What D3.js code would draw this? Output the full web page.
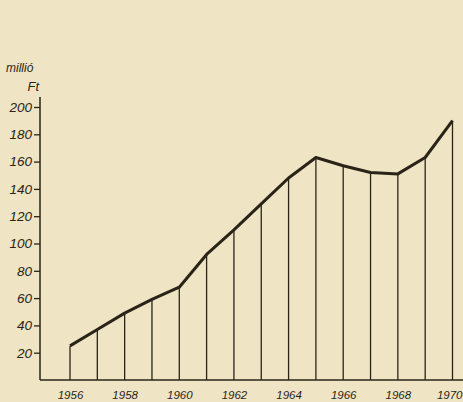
<!DOCTYPE html>
<html>
<head>
<meta charset="utf-8">
<script src="https://cdn.jsdelivr.net/npm/d3@7"></script>
<style>
  html, body { margin: 0; padding: 0; background: #efe4c4; }
  svg text { font-family: "Liberation Sans", "DejaVu Sans", sans-serif; font-style: italic; fill: #2a2418; }
</style>
</head>
<body>
<div id="chart"></div>
<script>
"use strict";
const years = [1956, 1957, 1958, 1959, 1960, 1961, 1962, 1963, 1964, 1965, 1966, 1967, 1968, 1969, 1970];
const values = [25, 37, 49, 59, 68, 92, 110, 129, 148, 163, 157, 152, 151, 163, 190];
const yTicks = [20, 40, 60, 80, 100, 120, 140, 160, 180, 200];
const xTickYears = [1956, 1958, 1960, 1962, 1964, 1966, 1968, 1970];
const unitLines = ["millió", "Ft"];

const width = 463;
const height = 402;
const ink = "#2a2418";

const svg = d3.select("#chart")
    .append("svg")
    .attr("width", width)
    .attr("height", height);

svg.append("rect")
    .attr("width", width)
    .attr("height", height)
    .attr("fill", "#efe4c4");

const x = d3.scaleLinear()
    .domain([1956, 1970])
    .range([70, 452.5]);
const y = d3.scaleLinear()
    .domain([0, 200])
    .range([380, 107]);

// axes lines
svg.append("line")
    .attr("x1", 40).attr("x2", 40)
    .attr("y1", 97).attr("y2", 380)
    .attr("stroke", ink).attr("stroke-width", 1.5);
svg.append("line")
    .attr("x1", 40).attr("x2", width)
    .attr("y1", 380).attr("y2", 380)
    .attr("stroke", ink).attr("stroke-width", 1.5);

const yAxis = svg.append("g")
    .attr("transform", "translate(40,0)")
    .call(d3.axisLeft(y).tickValues(yTicks).tickSize(6).tickPadding(2));
yAxis.select(".domain").remove();
yAxis.selectAll("line").attr("stroke", ink).attr("stroke-width", 1.3);
yAxis.selectAll("text")
    .attr("font-size", 13.5)
    .attr("fill", ink)
    .style("font-family", "'Liberation Sans', sans-serif")
    .style("font-style", "italic");

const xAxis = svg.append("g")
    .attr("transform", "translate(0,380)")
    .call(d3.axisBottom(x).tickValues(xTickYears).tickFormat(d3.format("d")).tickSize(0).tickPadding(11));
xAxis.select(".domain").remove();
xAxis.selectAll("text")
    .attr("font-size", 11.5)
    .attr("fill", ink)
    .style("font-family", "'Liberation Sans', sans-serif")
    .style("font-style", "italic");
// keep the last year label inside the frame
xAxis.selectAll("text")
    .filter(d => d === 1970)
    .attr("text-anchor", "end")
    .attr("x", width - 452.5 - 1);

const data = years.map((yr, i) => ({ year: yr, value: values[i] }));

// vertical drop lines
svg.append("g")
    .selectAll("line")
    .data(data)
    .enter()
    .append("line")
    .attr("x1", d => x(d.year))
    .attr("x2", d => x(d.year))
    .attr("y1", d => y(d.value))
    .attr("y2", y(0))
    .attr("stroke", ink)
    .attr("stroke-width", 1.3);

svg.append("path")
    .datum(data)
    .attr("fill", "none")
    .attr("stroke", ink)
    .attr("stroke-width", 3)
    .attr("stroke-linejoin", "round")
    .attr("d", d3.line().x(d => x(d.year)).y(d => y(d.value)));

// unit label
svg.append("text")
    .attr("x", 6).attr("y", 72)
    .attr("font-size", 12)
    .text(unitLines[0]);
svg.append("text")
    .attr("x", 39).attr("y", 91)
    .attr("text-anchor", "end")
    .attr("font-size", 13)
    .text(unitLines[1]);
</script>
</body>
</html>
